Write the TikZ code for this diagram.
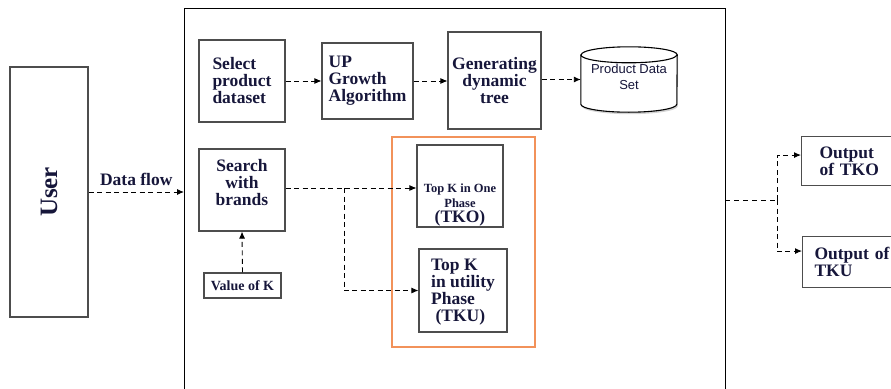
\documentclass[tikz,border=0pt]{standalone}
\usepackage{fontspec}
\setmainfont{Liberation Serif}
\newfontfamily\arialfont{Liberation Sans}
\usepackage{xcolor}
\usetikzlibrary{arrows.meta,shadows}
\definecolor{ink}{HTML}{16163A}
\definecolor{edge}{HTML}{4D4D4D}
\definecolor{peach}{HTML}{F2925A}
\tikzstyle{block} = [draw=edge, line width=1.1pt, rectangle, inner sep=2pt, text=ink, font=\bfseries\fontsize{17.5}{17}\selectfont]
\tikzstyle{store} = [rectangle, minimum width=96pt, minimum height=65pt, inner sep=0pt]
\tikzstyle{drum} = [draw=black, line width=1.1pt, fill=white, drop shadow={shadow xshift=1pt, shadow yshift=-2pt, opacity=0.35}]
\tikzstyle{group} = [draw=peach, line width=1.2pt, rectangle, minimum width=143pt, minimum height=210pt]
\tikzstyle{dline} = [dashed, dash pattern=on 5pt off 3.5pt, line width=0.9pt, -{Latex[length=7pt,width=6pt]}]

\begin{document}
\begin{tikzpicture}[x=1pt, y=-1pt]
    \useasboundingbox (0,0) rectangle (891,388);
    % outer frame
    \draw[line width=0.9pt] (184,395) |- (725,8) -- (725,395);
    \node[block, minimum width=78pt, minimum height=250pt] (user) at (49,192) {\rotatebox{90}{\fontsize{25}{25}\selectfont User}};
    \node[block, minimum width=86pt, minimum height=82pt, align=left] (sel) at (242,81) {Select\\product\\dataset};
    \node[block, minimum width=91pt, minimum height=76pt, align=left] (upg) at (367.5,81) {UP\\Growth\\Algorithm};
    \node[block, minimum width=93pt, minimum height=97pt, align=center] (gen) at (494.5,80.5) {Generating\\dynamic\\tree};
    % data store
    \node[store] (pds) at (629,79.5) {};
    \draw[drum] ([yshift=-8pt]pds.north west) -- ([yshift=8pt]pds.south west)
        arc[start angle=180, end angle=360, x radius=48pt, y radius=8pt]
        -- ([yshift=-8pt]pds.north east)
        arc[start angle=0, end angle=180, x radius=48pt, y radius=8pt] -- cycle;
    \draw[line width=1.1pt] ([yshift=-8pt]pds.north west) arc[start angle=180, end angle=360, x radius=48pt, y radius=8pt];
    \node[text=ink, font=\arialfont\fontsize{13}{16}\selectfont, align=center] (pdstext) at (629,77) {Product Data\\Set};
    \node[block, minimum width=86pt, minimum height=82pt, align=center] (srch) at (242,190) {Search\\with\\brands\\[-2pt]};
    \node[block, minimum width=77pt, minimum height=25pt, font=\bfseries\fontsize{14}{14}\selectfont] (valk) at (242.5,285.5) {Value of K};
    \node[group] (grp) at (463.5,242) {};
    \node[block, minimum width=86pt, minimum height=82pt,
        label={[yshift=-19pt, align=center, text=ink, font=\bfseries\fontsize{12.5}{15}\selectfont]center:{Top K in One\\Phase\\{\fontsize{17.5}{19}\selectfont(TKO)}}}] (tko) at (460,186) {};
    \node[block, minimum width=88pt, minimum height=83pt, align=left] (tku) at (463,290.5) {\\[-2pt]Top K\\in utility\\Phase\\\ (TKU)};
    \node[block, minimum width=120pt, minimum height=49pt, anchor=north west, align=left, text width=110pt] (outo) at (801,136) {\hspace*{13pt}Output\\\hspace*{13pt}of TKO};
    \node[block, minimum width=120pt, minimum height=51pt, anchor=north west, align=left, text width=110pt] (outu) at (802,236) {\hspace*{7pt}Output of\\\hspace*{7pt}TKU\\[8pt]};
    % connectors
    \coordinate (fin) at (184,192);
    \coordinate (br) at (344,188);
    \coordinate (src) at (725,200);
    \coordinate (sp) at (777,200);
    \draw[dline] (user.east |- fin) -- node[above=3pt, text=ink, font=\bfseries\fontsize{17.5}{17}\selectfont] (df) {Data flow} (fin);
    \draw[dline] (sel.east |- upg.west) -- (upg.west);
    \draw[dline] (upg.east) -- (gen.west |- upg.east);
    \draw[dline] (gen.east |- pds.west) -- (pds.west);
    \draw[dline] (valk.north) -- (srch.south);
    \draw[dline] (srch.east |- br) -- (tko.west |- br);
    \draw[dline] (br) |- (tku.west);
    \draw[dashed, dash pattern=on 5pt off 4pt, line width=0.8pt] (src) -- (sp);
    \draw[dline] (sp) |- ([yshift=6pt]outo.west);
    \draw[dline] (sp) |- ([yshift=11pt]outu.west);
\end{tikzpicture}
\end{document}
